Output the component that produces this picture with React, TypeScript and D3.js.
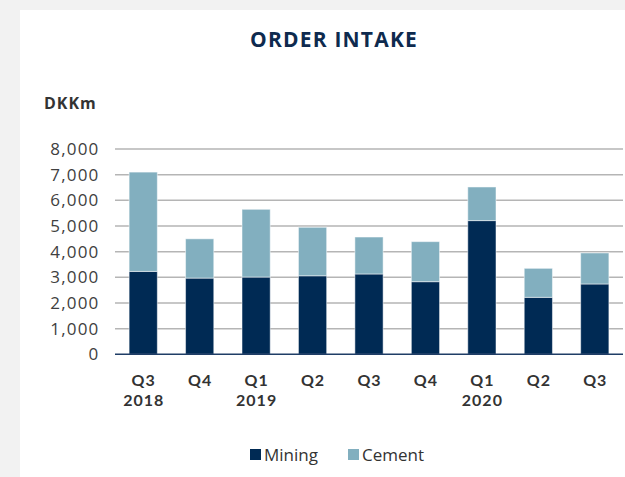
import React, { useEffect, useRef } from "react";
import * as d3 from "d3";

const categories = ["Q3|2018", "Q4", "Q1|2019", "Q2", "Q3", "Q4", "Q1|2020", "Q2", "Q3"];
const mining = [3230, 2970, 3010, 3060, 3130, 2830, 5210, 2220, 2740];
const cement = [3870, 1530, 2640, 1890, 1440, 1560, 1310, 1130, 1210];
const yTicks = [0, 1000, 2000, 3000, 4000, 5000, 6000, 7000, 8000];
const seriesNames = ["Mining", "Cement"];
const colors = ["#002A54", "#82AFBF"];

const W = 625, H = 477;
const FONT = "'Open Sans', Lato, sans-serif";
const FONT2 = "Lato, 'Open Sans', sans-serif";

export default function App() {
  const ref = useRef<SVGSVGElement>(null);
  useEffect(() => {
    document.body.style.margin = "0";
    const svg = d3.select(ref.current);
    svg.selectAll("*").remove();

    svg.append("rect").attr("width", W).attr("height", H).attr("fill", "#F2F2F2");
    svg.append("rect").attr("x", 20).attr("y", 10).attr("width", W - 20).attr("height", H - 10).attr("fill", "#FFFFFF");

    const x0 = 115, x1 = 623, yB = 354.3, yT = 149;
    const x = d3.scaleBand<number>().domain(d3.range(categories.length)).range([x0, x1]).paddingInner(0.5).paddingOuter(0.25);
    const y = d3.scaleLinear().domain([0, 8000]).range([yB, yT]);

    // title
    svg.append("text").attr("x", 334).attr("y", 47).attr("text-anchor", "middle")
      .attr("font-family", FONT).attr("font-weight", 700).attr("font-size", 21)
      .attr("letter-spacing", 1.2)
      .attr("fill", "#0E2A4E").text("ORDER INTAKE");

    svg.append("text").attr("x", 44).attr("y", 108.5).attr("font-family", FONT)
      .attr("font-weight", 700).attr("font-size", 16).attr("letter-spacing", 1)
      .attr("fill", "#333333").text("DKKm");

    // grid
    const g = svg.append("g");
    g.selectAll("line.grid").data(yTicks.filter(t => t > 0)).join("line")
      .attr("x1", x0).attr("x2", x1).attr("y1", d => y(d)).attr("y2", d => y(d))
      .attr("stroke", "#B5B5B5").attr("stroke-width", 1.5);

    g.selectAll("text.yt").data(yTicks).join("text")
      .attr("x", 99.5).attr("y", d => y(d) + 6).attr("text-anchor", "end")
      .attr("font-family", FONT).attr("font-size", 17).attr("letter-spacing", 1.2)
      .attr("fill", "#404040")
      .text(d => d3.format(",")(d));

    // stacked bars
    const data = categories.map((c, i) => ({ i, Mining: mining[i], Cement: cement[i] }));
    const stack = d3.stack<any>().keys(seriesNames)(data);
    stack.forEach((s, si) => {
      svg.append("g").selectAll("rect").data(s).join("rect")
        .attr("x", (d: any) => x(d.data.i)!)
        .attr("width", x.bandwidth())
        .attr("y", (d: any) => y(d[1]))
        .attr("height", (d: any) => y(d[0]) - y(d[1]))
        .attr("fill", colors[si])
        .attr("stroke", "#FFFFFF").attr("stroke-opacity", 0.5).attr("stroke-width", 1);
    });

    // baseline
    svg.append("line").attr("x1", x0).attr("x2", x1).attr("y1", yB).attr("y2", yB)
      .attr("stroke", "#1F3D66").attr("stroke-width", 1.5);

    // x labels
    categories.forEach((c, i) => {
      const parts = c.split("|");
      const cx = x(i)! + x.bandwidth() / 2;
      const t = svg.append("text").attr("text-anchor", "middle")
        .attr("font-family", FONT2).attr("font-weight", 700).attr("font-size", 16)
        .attr("letter-spacing", 1).attr("fill", "#333333");
      parts.forEach((p, k) => {
        t.append("tspan").attr("x", cx + 0.5).attr("y", 386 + k * 19.5).text(p);
      });
    });

    // legend
    const legX = [250, 348];
    seriesNames.forEach((n, i) => {
      svg.append("rect").attr("x", legX[i]).attr("y", 449).attr("width", 11).attr("height", 11).attr("fill", colors[i]);
      svg.append("text").attr("x", legX[i] + 14).attr("y", 460.5).attr("font-family", FONT)
        .attr("font-size", 17).attr("fill", "#333333").text(n);
    });
  }, []);
  return <svg ref={ref} width={W} height={H} style={{ display: "block" }} />;
}
